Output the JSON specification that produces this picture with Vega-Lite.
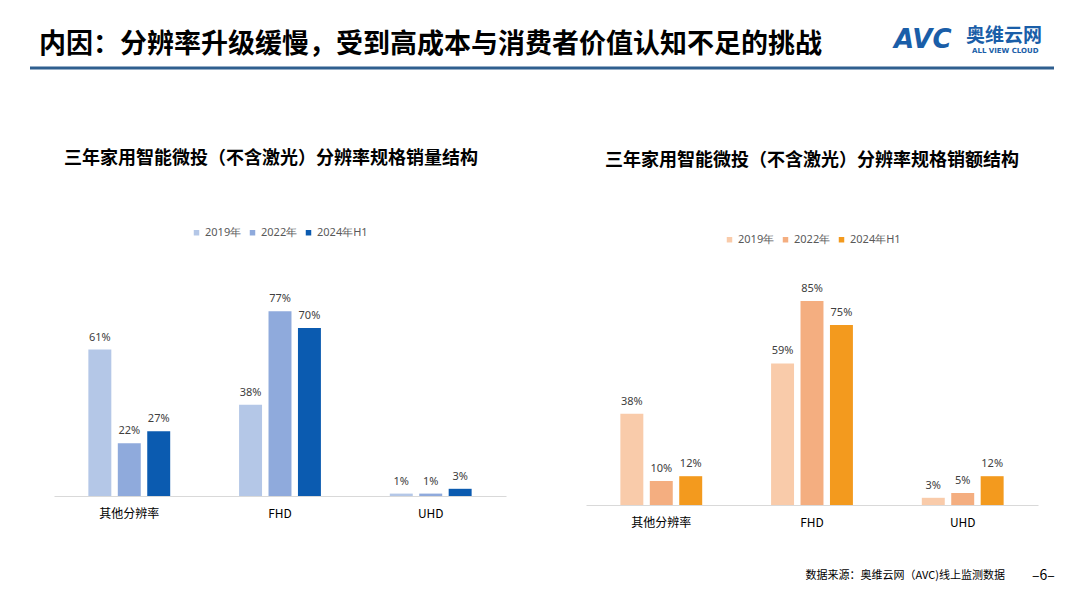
{
  "$schema": "https://vega.github.io/schema/vega-lite/v6.json",
  "background": "white",
  "padding": {"left": 28, "top": 0, "right": 0, "bottom": 0},
  "config": {
    "font": "Noto Sans CJK SC",
    "view": {"stroke": null},
    "concat": {"spacing": 80}
  },
  "datasets": {
    "vol": [
      {"cat": "其他分辨率", "year": "2019年", "v": 0.61},
      {"cat": "其他分辨率", "year": "2022年", "v": 0.22},
      {"cat": "其他分辨率", "year": "2024年H1", "v": 0.27},
      {"cat": "FHD", "year": "2019年", "v": 0.38},
      {"cat": "FHD", "year": "2022年", "v": 0.77},
      {"cat": "FHD", "year": "2024年H1", "v": 0.70},
      {"cat": "UHD", "year": "2019年", "v": 0.01},
      {"cat": "UHD", "year": "2022年", "v": 0.01},
      {"cat": "UHD", "year": "2024年H1", "v": 0.03}
    ],
    "amt": [
      {"cat": "其他分辨率", "year": "2019年", "v": 0.38},
      {"cat": "其他分辨率", "year": "2022年", "v": 0.10},
      {"cat": "其他分辨率", "year": "2024年H1", "v": 0.12},
      {"cat": "FHD", "year": "2019年", "v": 0.59},
      {"cat": "FHD", "year": "2022年", "v": 0.85},
      {"cat": "FHD", "year": "2024年H1", "v": 0.75},
      {"cat": "UHD", "year": "2019年", "v": 0.03},
      {"cat": "UHD", "year": "2022年", "v": 0.05},
      {"cat": "UHD", "year": "2024年H1", "v": 0.12}
    ],
    "header": [{"title": "内因：分辨率升级缓慢，受到高成本与消费者价值认知不足的挑战", "logo": "AVC", "logo2": "奥维云网", "logo3": "ALL VIEW CLOUD"}],
    "footer": [{"src": "数据来源：奥维云网（AVC)线上监测数据", "page": "–6–"}]
  },
  "vconcat": [
    {
      "width": 985,
      "height": 70,
      "data": {"name": "header"},
      "layer": [
        {"mark": {"type": "rule", "stroke": "#2F5F8F", "strokeWidth": 3},
         "encoding": {"x": {"value": -24}, "x2": {"value": 1000}, "y": {"value": 68}}},
        {"mark": {"type": "text", "align": "left", "baseline": "middle", "fontSize": 27, "fontWeight": "bold", "color": "#000000"},
         "encoding": {"text": {"field": "title"}, "x": {"value": -15}, "y": {"value": 45}}},
        {"mark": {"type": "text", "align": "left", "baseline": "middle", "fontSize": 26, "fontWeight": "bold", "fontStyle": "italic", "color": "#1A5EA8", "font": "DejaVu Sans"},
         "encoding": {"text": {"field": "logo"}, "x": {"value": 840}, "y": {"value": 40}}},
        {"mark": {"type": "text", "align": "left", "baseline": "middle", "fontSize": 19, "fontWeight": "bold", "color": "#1A5EA8"},
         "encoding": {"text": {"field": "logo2"}, "x": {"value": 912}, "y": {"value": 36}}},
        {"mark": {"type": "text", "align": "left", "baseline": "middle", "fontSize": 7, "fontWeight": "bold", "color": "#1A5EA8", "font": "DejaVu Sans"},
         "encoding": {"text": {"field": "logo3"}, "x": {"value": 918}, "y": {"value": 51}}}
      ]
    },
    {
      "spacing": 33,
      "vconcat": [
        {
          "hconcat": [
            {
              "width": 452,
              "height": 216,
              "data": {"name": "vol"},
              "title": {"text": "三年家用智能微投（不含激光）分辨率规格销量结构", "fontSize": 18, "fontWeight": "bold", "color": "#000000", "offset": 59, "dx": -9},
              "encoding": {
                "x": {"field": "cat", "type": "nominal", "sort": ["其他分辨率", "FHD", "UHD"], "title": null,
                      "scale": {"paddingInner": 0.457, "paddingOuter": 0.228},
                      "axis": {"labelAngle": 0, "labelFontSize": 12, "labelColor": "#000000", "ticks": false, "domainColor": "#D9D9D9", "labelPadding": 12}},
                "xOffset": {"field": "year", "type": "nominal", "sort": ["2019年", "2022年", "2024年H1"], "scale": {"paddingInner": 0.22, "paddingOuter": 0}},
                "y": {"field": "v", "type": "quantitative", "scale": {"domain": [0, 0.9]}, "axis": null}
              },
              "layer": [
                {"mark": {"type": "bar"},
                 "encoding": {"color": {"field": "year", "type": "nominal", "sort": ["2019年", "2022年", "2024年H1"],
                   "scale": {"range": ["#B4C7E7", "#8FAADC", "#0B5BB0"]},
                   "legend": {"orient": "none", "legendX": 137, "legendY": -53, "title": null, "symbolType": "square", "symbolSize": 30, "labelFontSize": 11, "labelColor": "#595959", "columnPadding": 5, "labelOffset": 3, "labelFont": "Noto Sans", "direction": "horizontal"}}}},
                {"mark": {"type": "text", "dy": -12, "fontSize": 11, "color": "#404040", "font": "Noto Sans"},
                 "encoding": {"text": {"field": "v", "type": "quantitative", "format": ".0%"}}}
              ]
            },
            {
              "width": 452,
              "height": 225,
              "data": {"name": "amt"},
              "title": {"text": "三年家用智能微投（不含激光）分辨率规格销额结构", "fontSize": 18, "fontWeight": "bold", "color": "#000000", "offset": 64},
              "encoding": {
                "x": {"field": "cat", "type": "nominal", "sort": ["其他分辨率", "FHD", "UHD"], "title": null,
                      "scale": {"paddingInner": 0.457, "paddingOuter": 0.228},
                      "axis": {"labelAngle": 0, "labelFontSize": 12, "labelColor": "#000000", "ticks": false, "domainColor": "#D9D9D9", "labelPadding": 12}},
                "xOffset": {"field": "year", "type": "nominal", "sort": ["2019年", "2022年", "2024年H1"], "scale": {"paddingInner": 0.22, "paddingOuter": 0}},
                "y": {"field": "v", "type": "quantitative", "scale": {"domain": [0, 0.9375]}, "axis": null}
              },
              "layer": [
                {"mark": {"type": "bar"},
                 "encoding": {"color": {"field": "year", "type": "nominal", "sort": ["2019年", "2022年", "2024年H1"],
                   "scale": {"range": ["#F9CBAA", "#F4AE80", "#F39A1E"]},
                   "legend": {"orient": "none", "legendX": 138, "legendY": -46, "title": null, "symbolType": "square", "symbolSize": 30, "labelFontSize": 11, "labelColor": "#595959", "columnPadding": 5, "labelOffset": 3, "labelFont": "Noto Sans", "direction": "horizontal"}}}},
                {"mark": {"type": "text", "dy": -12, "fontSize": 11, "color": "#404040", "font": "Noto Sans"},
                 "encoding": {"text": {"field": "v", "type": "quantitative", "format": ".0%"}}}
              ]
            }
          ],
          "resolve": {"scale": {"color": "independent", "x": "independent", "y": "independent"}}
        },
        {
          "width": 985,
          "height": 30,
          "data": {"name": "footer"},
          "layer": [
            {"mark": {"type": "text", "align": "right", "baseline": "middle", "fontSize": 11, "color": "#000000"},
             "encoding": {"text": {"field": "src"}, "x": {"value": 951}, "y": {"value": 15}}},
            {"mark": {"type": "text", "align": "left", "baseline": "middle", "fontSize": 14, "color": "#000000"},
             "encoding": {"text": {"field": "page"}, "x": {"value": 978}, "y": {"value": 15}}}
          ]
        }
      ]
    }
  ]
}
